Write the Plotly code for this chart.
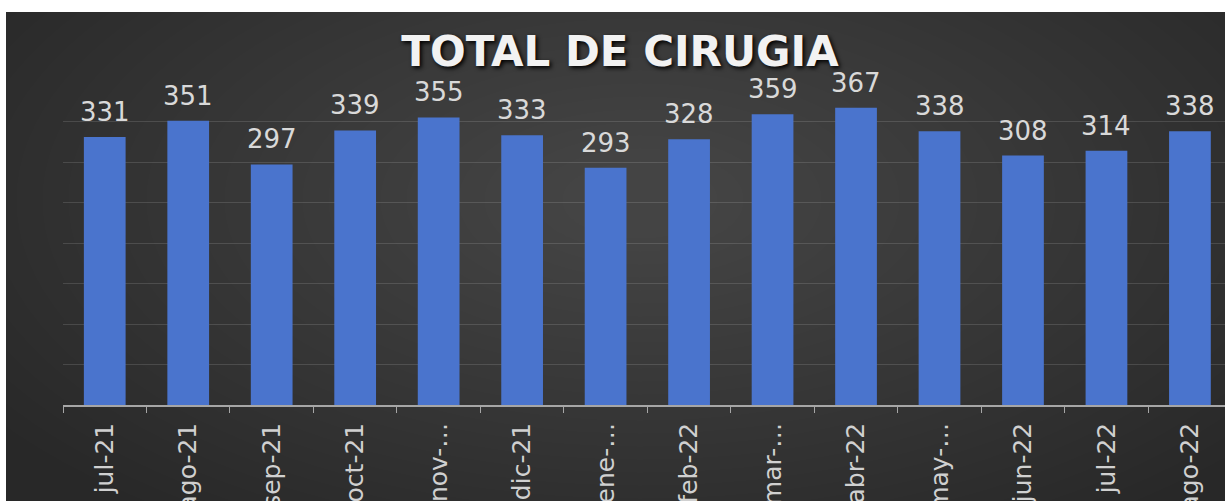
import plotly.graph_objects as go

# data
meses = ["jul-21", "ago-21", "sep-21", "oct-21", "nov-21", "dic-21", "ene-22",
         "feb-22", "mar-22", "abr-22", "may-22", "jun-22", "jul-22", "ago-22"]
etiquetas = ["jul-21", "ago-21", "sep-21", "oct-21", "nov-…", "dic-21", "ene-…",
             "feb-22", "mar-…", "abr-22", "may-…", "jun-22", "jul-22", "ago-22"]
cirugias = [331, 351, 297, 339, 355, 333, 293, 328, 359, 367, 338, 308, 314, 338]

W, H = 1225, 501
L, R, T, B = 63, 0, 81, 96
pw, ph = W - L - R, H - T - B


def px_x(p):
    return (p - L) / pw


def px_y(p):
    return (H - B - p) / ph


fig = go.Figure()

fig.add_trace(go.Bar(
    x=meses, y=cirugias,
    marker=dict(color="#4a74cd", line=dict(width=0)),
    hoverinfo="x+y",
))

# value labels above the bars
for m, v in zip(meses, cirugias):
    fig.add_annotation(x=m, y=v, text=str(v), showarrow=False,
                       yanchor="bottom", yshift=8,
                       font=dict(family="DejaVu Sans", size=26, color="#d9d9d9"))

# dark background with a soft radial glow
shapes = [dict(type="rect", xref="paper", yref="paper", layer="below",
               x0=px_x(6), x1=px_x(W + 20), y0=px_y(H + 20), y1=px_y(12),
               fillcolor="#282828", line=dict(width=0))]
cx, cy = 640, 200
for i in range(28):
    rx = 780 - i * 26
    ry = 390 - i * 13
    shapes.append(dict(type="circle", xref="paper", yref="paper", layer="below",
                       x0=px_x(cx - rx), x1=px_x(cx + rx),
                       y0=px_y(cy + ry), y1=px_y(cy - ry),
                       fillcolor="rgba(255,255,255,0.0075)", line=dict(width=0)))

fig.update_layout(
    width=W, height=H,
    margin=dict(l=L, r=R, t=T, b=B, autoexpand=False),
    paper_bgcolor="white",
    plot_bgcolor="rgba(0,0,0,0)",
    bargap=0.5,
    showlegend=False,
    shapes=shapes,
    title=dict(text="<b>TOTAL DE CIRUGIA</b>", x=620 / W, xanchor="center",
               xref="container", y=1 - 51 / H, yanchor="middle", yref="container",
               font=dict(family="DejaVu Sans", size=42, color="#f2f2f2",
                         shadow="2px 2px 4px #000")),
    xaxis=dict(
        type="category", range=[-0.5, 13.42],
        tickmode="array", tickvals=meses, ticktext=etiquetas,
        tickangle=-90, tickson="boundaries",
        ticks="outside", ticklen=6, tickcolor="#a6a6a6", tickwidth=1,
        showline=True, linecolor="#a6a6a6", linewidth=1.5,
        showgrid=False, automargin=False, ticklabelstandoff=6,
        tickfont=dict(family="DejaVu Sans", size=25, color="#d0d0d0"),
    ),
    yaxis=dict(
        range=[0, 400], dtick=50, showticklabels=False,
        showgrid=True, gridcolor="rgba(255,255,255,0.13)", gridwidth=1,
        zeroline=False, automargin=False,
    ),
)

# page has an 8px default body margin; drop it so the figure fills the window
fig.write_html("out.html", config={"displayModeBar": False},
               post_script="document.body.style.margin='0';")
